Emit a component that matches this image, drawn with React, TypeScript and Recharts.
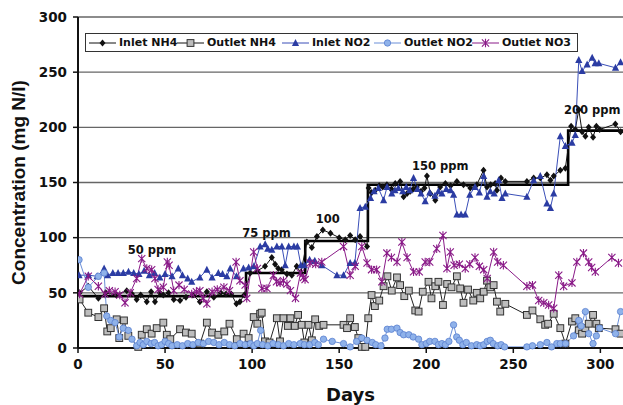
import React from "react";
import {
  LineChart,
  Line,
  XAxis,
  YAxis,
  CartesianGrid,
  ReferenceDot,
  Label,
} from "recharts";

type Pt = { day: number; value: number };
const pts = (rows: number[][]): Pt[] => rows.map(([day, value]) => ({ day, value }));

// target feed concentration (step)
const targetSteps = pts([
  [0, 47], [96.5, 47], [96.5, 68], [130.5, 68], [130.5, 97], [166.5, 97],
  [166.5, 148], [281.5, 148], [281.5, 197], [313, 197],
]);

const inletNH4 = pts([
  [0.9, 50], [5.9, 56], [11.7, 45], [16, 50], [22, 48], [28, 52], [31, 49], [33.7, 44],
  [36, 48], [39.5, 42], [42, 51], [44.2, 42], [47, 50], [49, 48], [52, 50], [55, 44],
  [58.6, 43], [62, 46], [66, 48], [70, 42], [74, 51], [78, 46], [82, 50], [85, 49],
  [88, 49], [91, 40], [93, 42], [95.5, 48], [98.9, 68], [103, 70], [107.4, 74], [111.3, 82],
  [113.2, 76], [115, 72], [117, 71], [120, 67], [122.8, 66], [125.6, 74], [128, 68],
  [131.4, 96], [134.3, 91], [137.2, 101], [140.6, 107], [145, 104], [150, 100], [153.5, 98],
  [156.3, 102], [159.2, 98], [162, 101], [166, 92], [166.9, 145], [168.5, 141], [170.7, 143],
  [173, 147], [175, 146], [177.4, 148], [180, 144], [182.2, 149], [185, 151], [187, 137],
  [189, 140], [190.8, 142], [192.5, 144], [194.6, 146], [197, 142], [199, 145], [200.4, 156],
  [202.3, 140], [205.2, 134], [208, 146], [211, 149], [214, 147], [217.6, 151], [221.4, 148],
  [225.3, 145], [229, 148], [232.9, 161], [234.9, 146], [237, 148], [239.6, 149], [240.6, 143],
  [242.9, 154], [245.4, 151], [257.8, 151], [261.7, 154], [265.5, 154], [269.3, 157],
  [271.3, 152], [273.2, 156], [277, 161], [279.9, 163], [283.2, 201], [285.6, 198],
  [287.6, 216], [289.5, 196], [291.4, 192], [293.3, 200], [295.8, 191], [297.7, 201],
  [299.6, 198], [308.6, 203], [311.6, 196],
]);

const outletNH4 = pts([
  [0.9, 44], [5.9, 32], [11.7, 28], [15, 36], [16.8, 15], [18.8, 18], [22.2, 26], [23.7, 9],
  [26.4, 25], [28.9, 11], [34.6, 1], [36.6, 12], [39.5, 17], [42.3, 13], [45.2, 18], [49, 23],
  [51, 12], [53, 8], [58.6, 17], [62, 14], [65.3, 13], [70.1, 4], [74, 23], [77, 14],
  [80.6, 12], [84, 15], [87, 22], [91.2, 8], [95.1, 13], [98, 9], [100.9, 28], [103, 22],
  [104.6, 31], [105.5, 32], [107.4, 6], [110, 5], [114.2, 27], [116, 6], [118, 27],
  [120.5, 20], [122, 27], [124.5, 20], [126.4, 30], [128.5, 21], [130, 5], [132.4, 21],
  [134.3, 7], [136.2, 26], [138.5, 20], [141, 21], [152.5, 21], [154.5, 18], [156.3, 27],
  [159, 19], [161, 9], [163, 1], [165, 1], [166.7, 27], [168.6, 48], [170.5, 38], [173, 43],
  [175.5, 56], [177.7, 65], [180.2, 52], [183.2, 64], [185, 57], [187.4, 47], [190, 52],
  [193.7, 34], [195.6, 33], [198, 51], [201.3, 60], [203, 45], [205.2, 56], [207, 60],
  [209.6, 39], [212, 58], [214.5, 55], [217.6, 65], [219.5, 54], [221.4, 41], [224, 53],
  [227, 43], [229, 50], [231, 45], [233, 51], [234.9, 61], [236.8, 55], [238.7, 57],
  [240.6, 42], [242.5, 33], [245.4, 40], [257.8, 30], [261, 34], [265.5, 26], [268.3, 21],
  [270, 22], [273.2, 31], [277, 18], [279.9, 4], [283.7, 24], [285.6, 27], [287.6, 16],
  [289.5, 13], [291.4, 18], [293.3, 22], [295.8, 30], [297.7, 22], [299.1, 18], [308.7, 17],
  [311.6, 13],
]);

const inletNO2 = pts([
  [0.6, 66], [6, 66], [11, 65], [15, 72], [17, 66], [20, 68], [23, 68], [26, 68], [29, 69],
  [32, 68], [35, 67], [38, 70], [41, 66], [44, 68], [47, 64], [50, 67], [54, 65], [57.6, 72],
  [60, 66], [63, 63], [65.3, 60], [70, 64], [74, 71], [77, 64], [80.6, 68], [83, 67],
  [85.5, 65], [87.4, 72], [91, 65], [95, 72], [98, 73], [101, 74], [104.6, 92], [107.5, 94],
  [109, 90], [111.3, 89], [114.2, 92], [117.1, 92], [119, 75], [121, 92], [124, 92], [126, 92],
  [128, 75], [130, 75], [133, 80], [136, 79], [140, 75], [148.7, 66], [152.5, 66],
  [156.3, 77], [159, 77], [162, 127], [165, 128], [168, 136], [170, 142], [172.5, 145],
  [175.5, 134], [177.5, 146], [180.2, 140], [182, 143], [184, 145], [186.5, 142], [188.5, 146],
  [190.5, 143], [192.7, 154], [195, 144], [197, 140], [199.4, 133], [202, 141], [205, 138],
  [207, 142], [209, 140], [211.5, 144], [214, 143], [215.7, 139], [217.6, 121], [220, 121],
  [222.4, 121], [225, 139], [228, 146], [230.5, 141], [233, 156], [234.9, 137], [236.8, 142],
  [239, 140], [241.6, 152], [243.5, 136], [245.4, 140], [257.8, 137], [261.7, 152],
  [265.5, 156], [269.3, 131], [271.3, 127], [273.2, 140], [277, 192], [279.9, 183],
  [283.7, 186], [285.6, 193], [287.6, 261], [289.5, 251], [292.4, 257], [295.3, 263],
  [297, 258], [299.1, 258], [308.7, 254], [311.6, 259],
]);

const outletNO2 = pts([
  [0.6, 80], [5.9, 55], [11.7, 65], [15, 68], [16.5, 29], [18.8, 25], [21.3, 23], [23.7, 10],
  [26, 18], [28.9, 16], [31, 8], [33.7, 2], [35.6, 5], [37.5, 3], [39.5, 6], [42, 4], [44, 5],
  [46, 2], [48, 3], [50, 6], [52, 4], [54, 2], [57, 3], [60, 2], [63, 4], [66, 3], [69, 5],
  [72, 4], [75, 6], [78, 5], [81, 3], [84, 5], [87, 3], [90, 2], [93, 4], [96, 3], [99, 4],
  [101, 2], [103, 4], [104.9, 16], [106, 3], [109, 2], [112, 4], [115, 3], [118, 2], [121, 4],
  [124, 3], [127.6, 4], [130, 3], [133, 3], [136, 5], [138, 3], [141, 8], [146, 6],
  [152.5, 4], [156.3, 1], [160, 6], [163, 9], [166, 7], [169, 5], [171, 3], [174, 2],
  [176.3, 9], [177.6, 17], [180, 17], [183.2, 18], [185, 14], [187, 12], [190, 12],
  [192.5, 10], [195.6, 8], [197.5, 3], [200, 4], [202, 6], [205, 6], [207, 3], [209, 4],
  [211, 3], [213, 6], [215.7, 21], [217.5, 10], [219, 7], [221, 3], [223, 5], [226, 2],
  [229, 3], [231, 2], [233, 3], [235, 6], [236.8, 7], [238.5, 4], [241, 2], [243, 3],
  [245, 1], [257.8, 1], [261, 2], [265.5, 3], [269.3, 5], [272, 1], [275, 4], [277, 4],
  [280, 4], [284.6, 11], [287.6, 25], [289, 20], [291.4, 33], [293.3, 13], [295.8, 4],
  [297.7, 11], [299.6, 18], [308.7, 13], [311.6, 33],
]);

const outletNO3 = pts([
  [0.9, 49], [5.9, 65], [11.7, 56], [15.5, 49], [18, 52], [21.3, 51], [24, 48], [27, 41],
  [30, 50], [33.7, 63], [36.6, 81], [39.5, 72], [42.3, 71], [44.2, 63], [46, 53], [49, 55],
  [51.3, 78], [52.3, 75], [55, 52], [58, 57], [61, 53], [65.3, 49], [68, 51], [70, 52],
  [72, 45], [74, 40], [77, 51], [80, 53], [83.8, 55], [87, 52], [90.8, 78], [93, 61],
  [96, 57], [96.9, 45], [100.9, 87], [103, 72], [105.6, 54], [108.5, 54], [112.2, 66],
  [114, 60], [116.1, 59], [118, 61], [120, 58], [122, 52], [124.9, 45], [127.8, 68],
  [129.5, 64], [130.4, 62], [133.3, 77], [136.5, 76], [140, 78], [152.5, 92], [156.3, 66],
  [159.2, 74], [163, 92], [166, 77], [168.6, 71], [171.5, 71], [174.5, 60], [177.4, 86],
  [180, 82], [183.2, 78], [186, 96], [189, 82], [192.7, 69], [196, 69], [199.4, 78],
  [202, 78], [206, 90], [209.6, 102], [211.9, 72], [213.8, 87], [216, 75], [219, 76],
  [222.4, 72], [225, 76], [228, 82], [230.5, 74], [233, 71], [235, 63], [238.7, 87],
  [241, 78], [244.3, 75], [257.8, 56], [261, 57], [264.6, 43], [267.5, 41], [270.3, 39],
  [273.2, 36], [276.1, 66], [278.9, 56], [283.7, 59], [286.5, 78], [290.3, 86], [293.3, 78],
  [295, 73], [297.1, 69], [306.6, 82], [310.4, 77],
]);

const xTicks = [0, 50, 100, 150, 200, 250, 300];
const yTicks = [0, 50, 100, 150, 200, 250, 300];

const stageLabels = [
  { text: "50 ppm", day: 42.5, value: 89 },
  { text: "75 ppm", day: 108.3, value: 104 },
  { text: "100", day: 143.4, value: 117 },
  { text: "150 ppm", day: 208, value: 165 },
  { text: "200 ppm", day: 295.4, value: 216 },
];

const C = {
  black: "#111111",
  gray: "#bdbdbd",
  blue: "#3a4fb8",
  blueDark: "#2b3ca3",
  light: "#6b8fd8",
  lightFill: "#8fb2ea",
  purple: "#8a1a88",
};

const hFont = "'DejaVu Sans', Verdana, sans-serif";

// marker glyphs
function Diamond({ cx, cy }: { cx: number; cy: number }) {
  return <path d={`M${cx},${cy - 3.5}L${cx + 3},${cy}L${cx},${cy + 3.5}L${cx - 3},${cy}Z`} fill={C.black} />;
}
function Square({ cx, cy }: { cx: number; cy: number }) {
  return <rect x={cx - 3.4} y={cy - 3.4} width={6.8} height={6.8} fill={C.gray} stroke="#333" strokeWidth={1} />;
}
function Triangle({ cx, cy }: { cx: number; cy: number }) {
  return <path d={`M${cx},${cy - 4}L${cx + 3.6},${cy + 3}L${cx - 3.6},${cy + 3}Z`} fill={C.blueDark} />;
}
function Circle({ cx, cy }: { cx: number; cy: number }) {
  return <circle cx={cx} cy={cy} r={3.2} fill={C.lightFill} stroke="#5a80cf" strokeWidth={0.8} />;
}
function Star({ cx, cy }: { cx: number; cy: number }) {
  const r = 3.6;
  return (
    <path
      d={`M${cx - r},${cy - r}L${cx + r},${cy + r}M${cx - r},${cy + r}L${cx + r},${cy - r}M${cx},${cy - r - 0.6}L${cx},${cy + r + 0.6}`}
      stroke={C.purple}
      strokeWidth={1.1}
      fill="none"
    />
  );
}

const dotOf = (Glyph: React.ComponentType<{ cx: number; cy: number }>) => (p: any) => {
  if (p.cx == null || p.cy == null) return <g key={`d${p.index}`} />;
  return <Glyph key={`d${p.index}`} cx={p.cx} cy={p.cy} />;
};

const legendItems = [
  { name: "Inlet NH4", color: C.black, Glyph: Diamond, left: 3 },
  { name: "Outlet NH4", color: C.black, Glyph: Square, left: 91 },
  { name: "Inlet NO2", color: C.blue, Glyph: Triangle, left: 196 },
  { name: "Outlet NO2", color: C.light, Glyph: Circle, left: 288 },
  { name: "Outlet NO3", color: C.purple, Glyph: Star, left: 386 },
];

function ChartLegend() {
  return (
    <div
      style={{
        position: "absolute",
        left: 85,
        top: 33,
        width: 493,
        height: 19,
        boxSizing: "border-box",
        border: "1px solid #333",
        background: "#fff",
      }}
    >
      {legendItems.map((it) => (
        <div
          key={it.name}
          style={{ position: "absolute", left: it.left, top: 0, height: 17, display: "flex", alignItems: "center" }}
        >
          <svg width={27} height={12} style={{ display: "block" }}>
            <line x1={0} y1={6} x2={27} y2={6} stroke={it.color} strokeWidth={1} />
            <it.Glyph cx={13.5} cy={6} />
          </svg>
          <span
            style={{
              marginLeft: 3,
              fontFamily: hFont,
              fontWeight: 700,
              fontSize: 11,
              color: "#111",
              whiteSpace: "nowrap",
            }}
          >
            {it.name}
          </span>
        </div>
      ))}
    </div>
  );
}

const tickStyle = { fill: "#111", fontSize: 13.5, fontWeight: 700, fontFamily: hFont };

export default function App() {
  return (
    <div style={{ position: "relative", width: 623, height: 405, overflow: "hidden", background: "#fff" }}>
      <style>{"body{margin:0}"}</style>
      <LineChart width={623} height={405} margin={{ top: 17, right: 0, bottom: 0, left: 0 }}>
        <CartesianGrid horizontal vertical={false} stroke="#666" strokeWidth={1.3} />
        <XAxis
          type="number"
          dataKey="day"
          domain={[0, 313]}
          ticks={xTicks}
          allowDataOverflow
          height={57}
          tickSize={5}
          tickMargin={6}
          axisLine={{ stroke: "#111", strokeWidth: 2 }}
          tickLine={{ stroke: "#111", strokeWidth: 1.5 }}
          tick={tickStyle}
        >
          <Label
            value="Days"
            position="insideBottom"
            offset={4}
            style={{ fill: "#111", fontSize: 18, fontWeight: 700, fontFamily: hFont }}
          />
        </XAxis>
        <YAxis
          type="number"
          domain={[0, 300]}
          ticks={yTicks}
          width={78}
          tickSize={5}
          tickMargin={6}
          axisLine={{ stroke: "#111", strokeWidth: 2 }}
          tickLine={{ stroke: "#111", strokeWidth: 1.5 }}
          tick={tickStyle}
        >
          <Label
            value="Concentration (mg N/l)"
            angle={-90}
            position="insideLeft"
            offset={18}
            style={{
              textAnchor: "middle",
              fill: "#111",
              fontSize: 19,
              fontWeight: 700,
              fontFamily: "'Liberation Sans', Arial, sans-serif",
            }}
          />
        </YAxis>
        <Line
          data={targetSteps}
          dataKey="value"
          stroke="#000"
          strokeWidth={2.6}
          dot={false}
          type="linear"
          isAnimationActive={false}
        />
        <Line data={inletNH4} dataKey="value" name="Inlet NH4" stroke={C.black} strokeWidth={1} dot={dotOf(Diamond)} isAnimationActive={false} />
        <Line data={outletNH4} dataKey="value" name="Outlet NH4" stroke="#222" strokeWidth={1} dot={dotOf(Square)} isAnimationActive={false} />
        <Line data={inletNO2} dataKey="value" name="Inlet NO2" stroke={C.blue} strokeWidth={1} dot={dotOf(Triangle)} isAnimationActive={false} />
        <Line data={outletNO2} dataKey="value" name="Outlet NO2" stroke={C.light} strokeWidth={1} dot={dotOf(Circle)} isAnimationActive={false} />
        <Line data={outletNO3} dataKey="value" name="Outlet NO3" stroke={C.purple} strokeWidth={1} dot={dotOf(Star)} isAnimationActive={false} />
        {stageLabels.map((s) => (
          <ReferenceDot
            key={s.text}
            x={s.day}
            y={s.value}
            r={0}
            fill="none"
            stroke="none"
            ifOverflow="visible"
            label={{
              value: s.text,
              position: "center",
              fill: "#111",
              fontSize: 11.5,
              fontWeight: 700,
              fontFamily: hFont,
            }}
          />
        ))}
      </LineChart>
      <ChartLegend />
    </div>
  );
}
